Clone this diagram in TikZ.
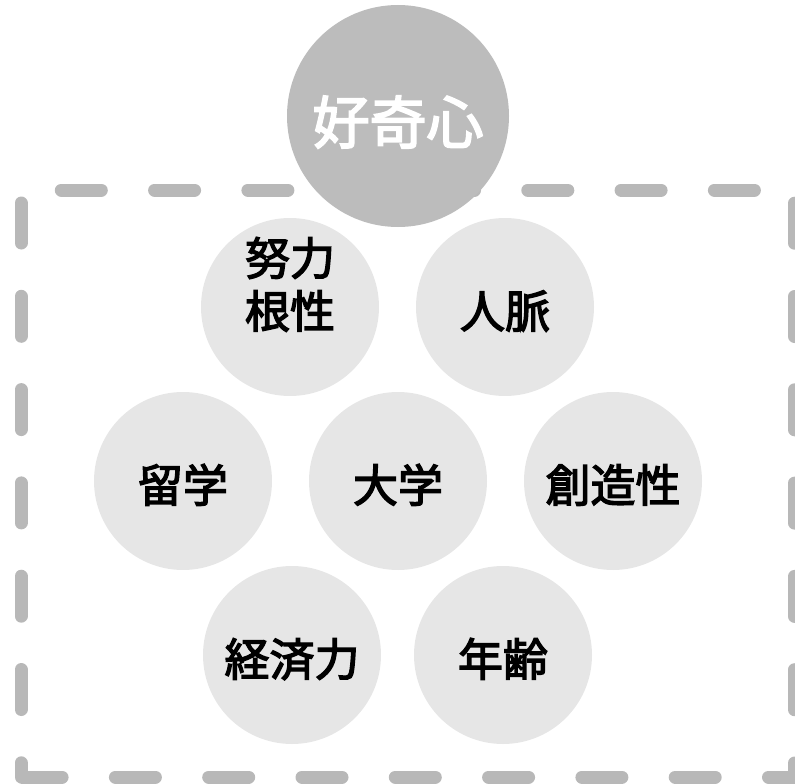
\documentclass[tikz,border=0pt]{standalone}
\usepackage{fontspec}
\newfontfamily\jpfont[FakeBold=3]{Noto Sans CJK JP}
\usepackage{xcolor}
\usepackage{tikz}

\definecolor{dashgray}{HTML}{B8B8B8}
\definecolor{topgray}{HTML}{BCBCBC}
\definecolor{bubblegray}{HTML}{E6E6E6}

\tikzset{
  bubble/.style={circle, fill=bubblegray, minimum size=178pt, inner sep=0pt, align=center,
    text height=44pt, text depth=2pt, font=\jpfont\fontsize{45}{53}\selectfont},
  topbubble/.style={circle, fill=topgray, minimum size=222pt, inner sep=0pt, text=white,
    text height=58pt, text depth=2.6pt, font=\jpfont\fontsize{57}{64}\selectfont},
  frame/.style={draw=dashgray, line width=13pt, line cap=round, line join=round,
    dash pattern=on 40pt off 53.3pt, dash phase=25.8pt}
}

\begin{document}
\begin{tikzpicture}[x=1pt,y=-1pt,node distance=174pt]
\useasboundingbox (0,0) rectangle (795,784);
% dashed frame
\draw[frame] (21,777) -- (21,190) -- (794.5,190) -- (794.5,777) -- cycle;
\node[bubble] at (398,481) (daigaku) {大学};
\node[bubble, left of=daigaku, xshift=-41pt] (ryugaku) {留学};
\node[bubble, right of=daigaku, xshift=41pt] (sozo) {創造性};
\node[bubble, above of=daigaku, xshift=-108pt] (doryoku) {努力\\根性};
\node[bubble, above of=daigaku, xshift=107pt] (jinmyaku) {人脈};
\node[bubble, below of=daigaku, xshift=-106pt] (keizai) {経済力};
\node[bubble, below of=daigaku, xshift=105pt] (nenrei) {年齢};
\node[topbubble] at (398,116) (kokishin) {好奇心};
\end{tikzpicture}
\end{document}
